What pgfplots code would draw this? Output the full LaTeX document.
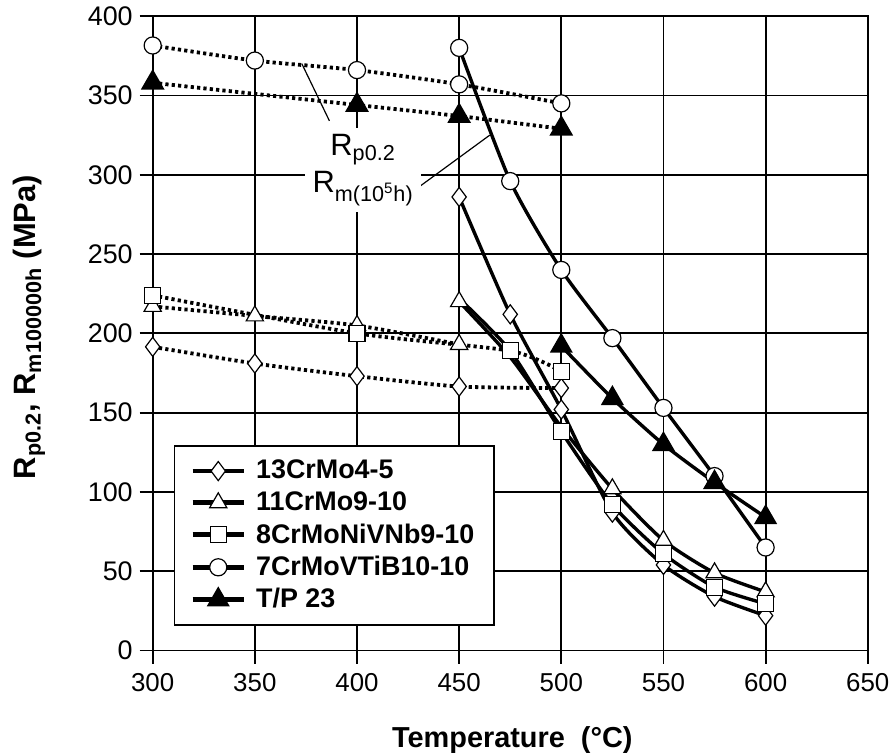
\documentclass[border={6.5pt 0pt 0pt 0pt}]{standalone}
\usepackage{fontspec}
\setmainfont{Liberation Sans}
\usepackage{pgfplots}
\pgfplotsset{compat=1.18}
\begin{document}
\begin{tikzpicture}
\begin{axis}[
  scale only axis,
  width=359pt, height=318.5pt,
  xmin=300, xmax=650, ymin=0, ymax=400,
  xtick={300,350,...,650}, ytick={0,50,...,400},
  grid=major,
  major grid style={black, line width=0.9pt},
  axis line style={black, line width=0.9pt},
  tick style={black, line width=0.9pt},
  tick align=outside, major tick length=6.5pt,
  xtick pos=bottom, ytick pos=left,
  /pgf/number format/assume math mode=true,
  xticklabel style={font=\fontsize{13}{15}\selectfont, yshift=-1.5pt},
  yticklabel style={font=\fontsize{13.5}{16}\selectfont},
  xlabel={\bfseries Temperature\ \ (°C)},
  xlabel style={font=\fontsize{14.5}{17}\selectfont, inner sep=0pt, at={(axis description cs:0.503,-0.141)}, anchor=center},
  ylabel={\bfseries R\textsubscript{p0.2}, R\textsubscript{m100000h} (MPa)},
  ylabel style={font=\fontsize{15.5}{18}\selectfont, inner sep=0pt, at={(axis description cs:-0.173,0.51)}, anchor=center},
  legend style={at={(axis cs:310.2,129.4)}, anchor=north west, draw=black, line width=0.9pt,
    font=\bfseries\fontsize{13.5}{15.5}\selectfont, inner xsep=8pt, inner ysep=5pt,
    row sep=1pt, column sep=3pt, cells={anchor=west}},
  legend image code/.code={\draw[#1, line width=2.4pt] (0cm,0cm) -- (0.9cm,0cm); \draw[#1] plot coordinates {(0.45cm,0cm)};},
  every axis plot/.append style={black},
]
% Rp0.2 dotted
\pgfplotsset{rp/.style={black, line width=1.9pt, dash pattern=on 1.6pt off 1.6pt, smooth, tension=0.4,
  mark options={solid, fill=white, draw=black, line width=0.6pt}}}
\addplot[rp, mark=diamond*, mark size=4.8pt, forget plot] coordinates {(300,191.5)(350,181)(400,173)(450,166.5)(500,165.5)};
\addplot[rp, mark=triangle*, mark size=5pt, forget plot] coordinates {(300,217)(350,211)(400,205)(450,193)};
\addplot[rp, mark=square*, mark size=4pt, forget plot] coordinates {(300,224)(400,200)(475,189)(500,176)};
\addplot[rp, mark=*, mark size=4.3pt, forget plot] coordinates {(300,381.5)(350,372)(400,366)(450,357)(500,345)};
\addplot[rp, mark=triangle*, mark size=5pt, mark options={solid, fill=black, draw=black}, forget plot] coordinates {(300,358)(400,344)(450,337)(500,329)};
% Rm solid
\pgfplotsset{rm/.style={black, line width=1.7pt, solid, smooth, tension=0.4,
  mark options={solid, fill=white, draw=black, line width=0.6pt}}}
\addplot[rm, mark=diamond*, mark size=4.8pt, forget plot] coordinates {(450,286)(475,212)(500,152)(525,87)(550,54)(575,34)(600,22)};
\addplot[rm, mark=triangle*, mark size=5pt, mark indices={1,4,5,6,7}, forget plot] coordinates {(450,220)(475,185)(500,141)(525,102)(550,69.5)(575,49)(600,37)};
\addplot[rm, mark=square*, mark size=4pt, mark indices={2,3,4,5,6,7}, forget plot] coordinates {(450,222)(475,189)(500,138)(525,92)(550,61)(575,40)(600,29.5)};
\addplot[rm, mark=*, mark size=4.3pt, forget plot] coordinates {(450,380)(475,296)(500,240)(525,197)(550,153)(575,110)(600,65)};
\addplot[rm, mark=triangle*, mark size=5pt, mark options={solid, fill=black, draw=black}, forget plot] coordinates {(500,192)(525,159)(550,130)(575,106)(600,84)};
% legend
\addlegendimage{rm, mark=diamond*, mark size=4.8pt}
\addlegendentry{13CrMo4-5}
\addlegendimage{rm, mark=triangle*, mark size=5pt}
\addlegendentry{11CrMo9-10}
\addlegendimage{rm, mark=square*, mark size=4pt}
\addlegendentry{8CrMoNiVNb9-10}
\addlegendimage{rm, mark=*, mark size=4.3pt}
\addlegendentry{7CrMoVTiB10-10}
\addlegendimage{rm, mark=triangle*, mark size=5pt, mark options={solid, fill=black, draw=black}}
\addlegendentry{T/P 23}
% annotation
\draw[black, line width=0.6pt] (axis cs:373,370) -- (axis cs:386.5,334);
\draw[black, line width=0.6pt] (axis cs:430,292) -- (axis cs:465,325);
\node[fill=white, inner sep=0pt, minimum width=58pt, minimum height=42pt, align=center, font=\fontsize{15.5}{18.5}\selectfont]
  at (axis cs:403,303) {R\textsubscript{p0.2}\\R\textsubscript{m(10\textsuperscript{5}h)}};
\end{axis}
\end{tikzpicture}
\end{document}
